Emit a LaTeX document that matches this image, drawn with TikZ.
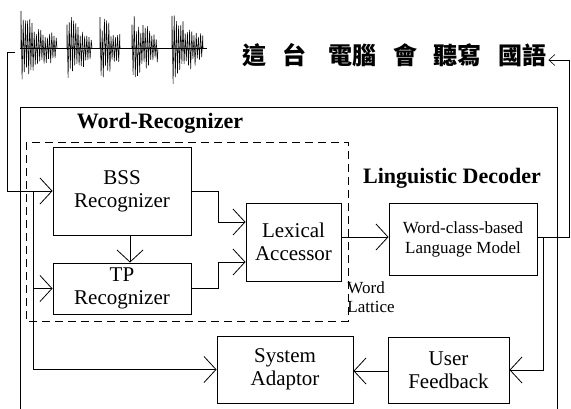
\documentclass[tikz,border=0pt]{standalone}
\usepackage{fontspec}
\setmainfont{Liberation Serif}
\newfontfamily\cjk{Noto Sans CJK TC}
\usetikzlibrary{arrows.meta,calc}
\begin{document}
\begin{tikzpicture}[x=1pt,y=-1pt,line width=0.9pt,
  box/.style={draw, rectangle, inner sep=0pt, align=center, font=\fontsize{21}{23}\selectfont},
  conn/.style={-{Straight Barb[length=12pt,width=26pt,line width=0.8pt]}},
  smallarr/.style={-{Straight Barb[length=6pt,width=11pt,line width=0.6pt]}},
  title/.style={font=\bfseries\fontsize{22}{24}\selectfont, inner sep=0pt},
  cjkf/.style={font=\cjk\bfseries\fontsize{24}{24}\selectfont, inner sep=0pt},
  wave/.style={line width=0.55pt},
  dashbox/.style={draw, dash pattern=on 8pt off 5pt, line width=0.8pt}
]
\useasboundingbox (0,0) rectangle (571,408);

% waveform
\pgfmathsetseed{11}
\draw[line width=0.6pt] (20,48) -- (207,48);
\foreach \s/\e in {21/57,67/92,100/120,132/158,172/203}{
  \pgfmathtruncatemacro\n{(\e-\s)/1.1}
  \draw[wave] (\s,48) foreach \k in {0,...,\n} {
    -- ({\s+\k*1.1},{48+(2*mod(\k,2)-1)*38*exp(-\k*1.1/(1.1*(\e-\s)))*(0.5+0.5*rnd)})
  } -- (\e,48);
}

% Chinese sentence
\node[cjkf] (c1) at (254,55) {這};
\node[cjkf] (c2) at (294,55) {台};
\node[cjkf] (c3) at (352,55) {電腦};
\node[cjkf] (c4) at (405,55) {會};
\node[cjkf] (c5) at (457,55) {聽寫};
\node[cjkf] (c6) at (522,55) {國語};

% outer box (open at bottom)
\draw (20,410) -- (20,107) -- (557,107) -- (557,410);
% dashed word recognizer box
\draw[dashbox] (26,142) rectangle (348,321);

\node[title] (wr) at (160,123) {Word-Recognizer};
\node[title] (ld) at (452,178) {Linguistic Decoder};

% boxes
\node[box, minimum width=138pt, minimum height=88pt] (bss) at (122,191) {BSS\\Recognizer};
\node[box, minimum width=138pt, minimum height=51pt] (tp) at (122,288.5) {TP\\Recognizer};
\node[box, minimum width=95pt, minimum height=78pt] (lex) at (293.5,242) {Lexical\\Accessor};
\node[box, minimum width=148pt, minimum height=72pt, font=\fontsize{17}{20}\selectfont] (lm) at (463,239) {Word-class-based\\Language Model};
\node[box, minimum width=136pt, minimum height=67pt] (sa) at (285,369.5) {System\\Adaptor};
\node[box, minimum width=121pt, minimum height=66pt] (uf) at (448.5,370) {User\\Feedback};

\node[anchor=west, align=left, inner sep=0pt, font=\fontsize{17}{19}\selectfont] (wl) at (347,297) {Word\\Lattice};

% connectors
\coordinate (in0) at (15,52);
\coordinate (j1) at (33,191);
\draw[conn] (in0) -- (7,52) |- (bss.west);
\draw[conn] (j1) |- (sa.west);
\draw[conn] (j1 |- tp.west) -- (tp.west);
\draw[conn] ([xshift=8pt]bss.south) -- ([xshift=8pt]tp.north);
\draw[conn] (bss.east) -| (218,222) -- ([yshift=20pt]lex.west);
\draw[conn] (tp.east) -| (218,262) -- ([yshift=-20pt]lex.west);
\draw[conn] ([yshift=5pt]lex.east) -- ([yshift=5pt]lex.east -| lm.west);
\draw[conn] ([yshift=2pt]lm.east) -| ($(uf.east)+(34,0)$) -- (uf.east);
\draw[conn] ([yshift=-1pt]uf.west) -- ([yshift=-1pt]uf.west -| sa.east);
\coordinate (out) at (569,60);
\draw[line width=0.6pt] ([yshift=2pt]lm.east) -| (out);
\draw[smallarr, line width=0.6pt] (out) -- ([xshift=2pt]c6.east |- out);
\end{tikzpicture}
\end{document}
